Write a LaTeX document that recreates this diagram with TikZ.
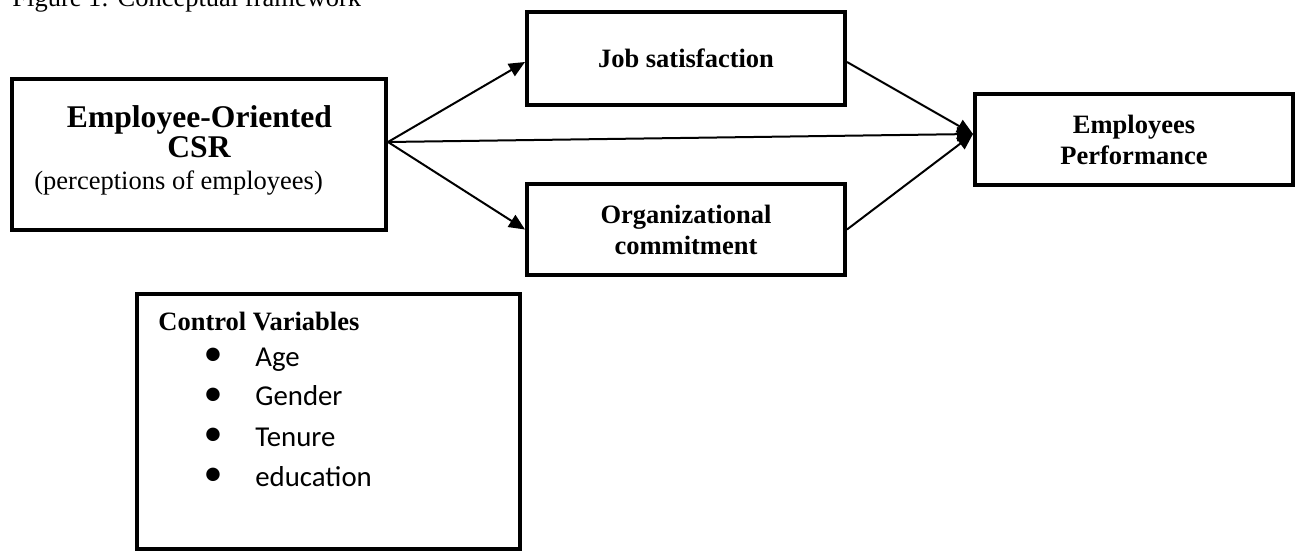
\documentclass[tikz,border=0pt]{standalone}
\usepackage{fontspec}
\setmainfont{Liberation Serif}
\newfontfamily\calibrifont{Carlito}
\usetikzlibrary{arrows.meta}

\begin{document}
\begin{tikzpicture}[x=0.5pt,y=0.5pt,yscale=-1,xscale=1,
  box/.style={draw, line width=2pt, inner sep=0pt, align=center,
    font=\fontsize{13.25}{15.5}\selectfont\bfseries},
  conn/.style={line width=1pt, -{Triangle[length=8pt,width=7pt]}},
  plain/.style={inner sep=0pt, font=\fontsize{13.25}{15.5}\selectfont},
  heading/.style={inner sep=0pt, font=\fontsize{15.8}{18}\selectfont\bfseries},
  bul/.style={inner sep=0pt, font=\calibrifont\fontsize{19}{19}\selectfont},
  listitem/.style={anchor=base west, inner sep=0pt, font=\calibrifont\fontsize{14.4}{17}\selectfont}
]
\useasboundingbox (0,0) rectangle (1298,551);

% Text Node
\node (title) [plain, anchor=base west] at (12,7) {Figure 1: Conceptual framework};

%Shape: Rectangle
\node (csr) [box, minimum width=187pt, minimum height=75.5pt] at (199,154.5) {};
%Shape: Rectangle
\node (js) [box, minimum width=159pt, minimum height=46.5pt] at (686,58.5) {Job satisfaction};
%Shape: Rectangle
\node (oc) [box, minimum width=159pt, minimum height=45.5pt] at (686,229.5) {Organizational\\commitment};
%Shape: Rectangle
\node (ep) [box, minimum width=159pt, minimum height=45.5pt] at (1134,139.5) {Employees\\Performance};
%Shape: Rectangle
\node (cv) [box, minimum width=191.5pt, minimum height=127.5pt] at (328.5,421.5) {};

% Text Node
\node (csrhead) [heading, anchor=base] at (199.5,128) {Employee-Oriented};
% Text Node
\node (csrname) [heading, anchor=base] at (199,158) {CSR};
% Text Node
\node (csrnote) [plain, anchor=base west] at (34,190) {(perceptions of employees)};

% Text Node
\node (cvhead) [plain, anchor=base west, font={\fontsize{13.25}{15.5}\selectfont\bfseries}] at (158,330) {Control Variables};
% Text Node
\node (b1) [bul] at (213,357) {•};
\node (age) [listitem] at (255,366) {Age};
% Text Node
\node (b2) [bul] at (213,397) {•};
\node (gender) [listitem] at (255,406) {Gender};
% Text Node
\node (b3) [bul] at (213,437) {•};
\node (tenure) [listitem] at (255,446) {Tenure};
% Text Node
\node (b4) [bul] at (213,477) {•};
\node (education) [listitem] at (255,486) {education};

%Straight Lines [id:arrows]
\coordinate (csrout) at ([yshift=-6.25pt]csr.east);
\coordinate (jsin) at ([yshift=1.75pt]js.west);
\coordinate (jsout) at ([yshift=1.75pt]js.east);
\coordinate (epin) at ([yshift=-2.75pt]ep.west);
\draw [conn] (csrout) -- (jsin);
\draw [conn] (csrout) -- (oc.west);
\draw [conn] (csrout) -- (epin);
\draw [conn] (jsout) -- (epin);
\draw [conn] (oc.east) -- (epin);

\end{tikzpicture}
\end{document}
